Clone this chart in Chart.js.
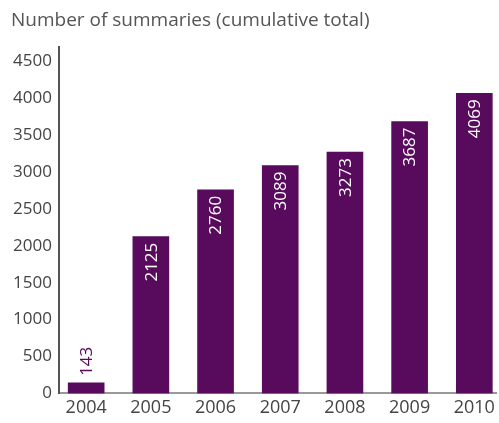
<!DOCTYPE html>
<html>
<head>
<meta charset="utf-8">
<script src="https://cdn.jsdelivr.net/npm/chart.js@4/dist/chart.umd.min.js"></script>
<style>
  html, body { margin: 0; padding: 0; background: #fff; overflow: hidden; }
  #wrap { width: 499px; height: 423px; position: relative; }
</style>
</head>
<body>
<div id="wrap"><canvas id="myChart"></canvas></div>
<script>
var years = ['2004', '2005', '2006', '2007', '2008', '2009', '2010'];
var totals = [143, 2125, 2760, 3089, 3273, 3687, 4069];
var yTicks = [0, 500, 1000, 1500, 2000, 2500, 3000, 3500, 4000, 4500];

var purple = '#580b5c';

// labels turned on their side, inside the bar near its top (or above a short bar)
var barLabels = {
    id: 'barLabels',
    afterDatasetsDraw: function(chart) {
        var ctx = chart.ctx;
        var meta = chart.getDatasetMeta(0);
        ctx.save();
        ctx.font = '17px "Open Sans"';
        ctx.textBaseline = 'middle';
        meta.data.forEach(function(bar, i) {
            var h = bar.base - bar.y;
            ctx.save();
            if (h < 60) {
                ctx.translate(bar.x, bar.y - 7);
                ctx.rotate(-Math.PI / 2);
                ctx.textAlign = 'left';
                ctx.fillStyle = purple;
            } else {
                ctx.translate(bar.x, bar.y + 6);
                ctx.rotate(-Math.PI / 2);
                ctx.textAlign = 'right';
                ctx.fillStyle = '#ffffff';
            }
            ctx.fillText(String(totals[i]), 0, 1);
            ctx.restore();
        });
        ctx.restore();
    }
};

var points = [];
for (var i = 0; i < totals.length; i++) {
    points.push({x: i, y: totals[i]});
}

var ctx = document.getElementById('myChart');
var myChart = new Chart(ctx, {
    type: 'bar',
    data: {
        datasets: [{
            data: points,
            backgroundColor: purple,
            barThickness: 36
        }]
    },
    options: {
        responsive: true,
        maintainAspectRatio: false,
        animation: false,
        layout: { padding: { top: 0, right: 2, bottom: 0, left: 11 } },
        plugins: {
            legend: { display: false },
            tooltip: { enabled: false },
            title: {
                display: true,
                text: 'Number of summaries (cumulative total)',
                align: 'start',
                color: '#555555',
                font: { family: '"Open Sans"', size: 19, weight: 'normal' },
                padding: { top: 9, bottom: 15 }
            }
        },
        scales: {
            x: {
                type: 'linear',
                offset: false,
                min: -0.42,
                max: 6.34,
                grid: { display: false, drawTicks: false },
                border: { display: true, color: '#999999', width: 2 },
                afterBuildTicks: function(axis) {
                    axis.ticks = years.map(function(y, i) { return {value: i}; });
                },
                ticks: {
                    color: '#444444',
                    font: { family: '"Open Sans"', size: 18 },
                    padding: 4,
                    maxRotation: 0,
                    autoSkip: false,
                    callback: function(v) { return years[v]; }
                }
            },
            y: {
                min: 0,
                max: 4700,
                grid: { display: false, drawTicks: false },
                border: { display: true, color: '#555555', width: 2 },
                afterBuildTicks: function(axis) {
                    axis.ticks = yTicks.map(function(v) { return {value: v}; });
                },
                afterFit: function(axis) { axis.width = 48; },
                ticks: {
                    color: '#444444',
                    font: { family: '"Open Sans"', size: 17 },
                    padding: 7,
                    callback: function(v) { return String(v); }
                }
            }
        }
    },
    plugins: [barLabels]
});
</script>
</body>
</html>
